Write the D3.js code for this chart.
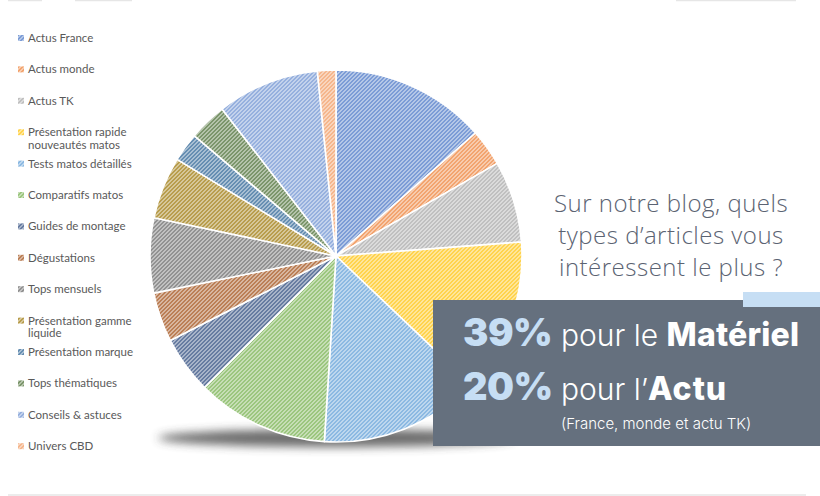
<!DOCTYPE html>
<html><head><meta charset="utf-8">
<script src="https://cdn.jsdelivr.net/npm/d3@7"></script>
<style>body{margin:0;background:#fff}svg{display:block}</style>
</head><body><svg id="c" width="820" height="496"></svg>
<script>
const categories = ["Actus France","Actus monde","Actus TK","Présentation rapide\nnouveautés matos","Tests matos détaillés","Comparatifs matos","Guides de montage","Dégustations","Tops mensuels","Présentation gamme\nliquide","Présentation marque","Tops thématiques","Conseils & astuces","Univers CBD"];
const values = [13.5, 3.2, 7.1, 13.3, 13.9, 11.5, 5.0, 4.3, 6.5, 5.4, 2.5, 3.3, 8.9, 1.6];
const baseColors = ["#4472C4","#ED7D31","#A5A5A5","#FFC000","#5B9BD5","#70AD47","#264478","#9E480E","#636363","#997300","#255E91","#43682B","#698ED0","#F1975A"];
const titleLines = ["Sur notre blog, quels","types d’articles vous","intéressent le plus ?"];
const stats = [{pct:"39%", light:"pour le ", bold:"Matériel"},{pct:"20%", light:"pour l’", bold:"Actu"}];
const note = "(France, monde et actu TK)";

const svg = d3.select("#c");
const defs = svg.append("defs");

// fine diagonal hatch patterns (pixel-aligned 4x4 tiles)
const cells = d3.cross(d3.range(4), d3.range(4)).filter(([x,y]) => (x+y)%4 < 2);
baseColors.forEach((c,i)=>{
  const p = defs.append("pattern").attr("id","p"+i).attr("patternUnits","userSpaceOnUse")
    .attr("width",4).attr("height",4);
  p.append("rect").attr("width",4).attr("height",4).attr("fill", d3.interpolateRgb(c,"#fff")(0.6));
  p.selectAll("rect.s").data(cells).join("rect").attr("class","s")
    .attr("x",d=>d[0]).attr("y",d=>d[1]).attr("width",1).attr("height",1)
    .attr("fill", d3.interpolateRgb(c,"#fff")(0.3));
});
const blur = defs.append("filter").attr("id","blur").attr("x","-20%").attr("y","-200%").attr("width","140%").attr("height","500%");
blur.append("feGaussianBlur").attr("stdDeviation",5);

// faint frame lines
const frame = svg.append("g").attr("stroke","#e6e6e6").attr("stroke-width",1.5);
[[8,42],[75,132],[676,796]].forEach(([a,b])=>frame.append("line").attr("x1",a).attr("x2",b).attr("y1",0.5).attr("y2",0.5));
frame.append("line").attr("x1",8).attr("x2",806).attr("y1",495).attr("y2",495);

// pie
const cx = 336, cy = 256, R = 186;
svg.append("ellipse").attr("cx",cx).attr("cy",cy+182).attr("rx",178).attr("ry",9)
  .attr("fill","#3a3a3a").attr("opacity",0.75).attr("filter","url(#blur)");
const pie = d3.pie().sort(null).value(d=>d);
const arc = d3.arc().innerRadius(0).outerRadius(R);
svg.append("g").attr("transform",`translate(${cx},${cy})`)
  .selectAll("path").data(pie(values)).join("path")
  .attr("d",arc).attr("fill",(d,i)=>`url(#p${i})`)
  .attr("stroke","#fff").attr("stroke-width",1.6).attr("stroke-linejoin","round");

// legend
const y0 = 38, dy = 31.4;
const lg = svg.append("g").attr("font-family","Lato, 'Open Sans', sans-serif").attr("font-size",11.5).attr("fill","#595959");
categories.forEach((c,i)=>{
  const y = y0 + i*dy;
  lg.append("rect").attr("x",18).attr("y",y-3).attr("width",6).attr("height",6).attr("fill",`url(#p${i})`);
  const lines = c.split("\n");
  const t = lg.append("text").attr("x",28).attr("y",y+4);
  lines.forEach((l,k)=>t.append("tspan").attr("x",28).attr("dy",k?12.5:0).text(l));
});

// title
const tt = svg.append("g").attr("font-family","'Open Sans', sans-serif").attr("font-weight",300)
  .attr("font-size",24).attr("letter-spacing",0.5).attr("fill","#5b6372").attr("text-anchor","middle");
titleLines.forEach((l,i)=>tt.append("text").attr("x",671).attr("y",212+i*32).text(l));

// box
svg.append("rect").attr("x",433).attr("y",300).attr("width",387).attr("height",146).attr("fill","#65707e");
svg.append("rect").attr("x",743).attr("y",292).attr("width",77).attr("height",15).attr("fill","#c6def4");
const boldSpacing = [0.2, 1];
stats.forEach((s,i)=>{
  const y = 346 + i*54;
  const t = svg.append("text").attr("x",463).attr("y",y).attr("font-family","Inter, 'Open Sans', sans-serif");
  t.append("tspan").attr("font-size",38).attr("font-weight",900).attr("fill","#c6def4").attr("letter-spacing",-0.5).text(s.pct);
  t.append("tspan").attr("x",561).attr("font-size",30).attr("font-weight",300).attr("fill","#fff").text(s.light);
  t.append("tspan").attr("font-size",32).attr("font-weight",800).attr("fill","#fff").attr("letter-spacing",boldSpacing[i]).text(s.bold);
});
svg.append("text").attr("x",561).attr("y",429).attr("font-family","Inter, 'Open Sans', sans-serif")
  .attr("font-size",15).attr("font-weight",300).attr("fill","#fff").text(note);
</script></body></html>
